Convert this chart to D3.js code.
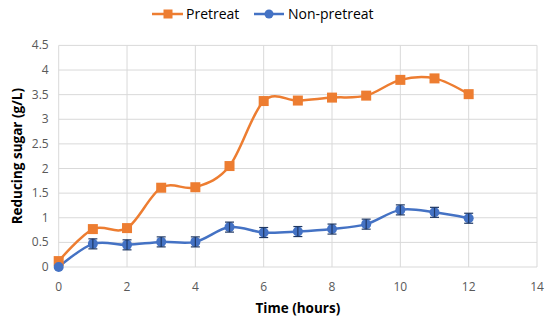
<!DOCTYPE html>
<html lang="en">
<head>
<meta charset="UTF-8">
<title>Reducing sugar</title>
<script src="https://d3js.org/d3.v7.min.js"></script>
<style>
    body { margin: 0; padding: 0; background: #fff; }
    svg { font-family: "Open Sans", "Liberation Sans", sans-serif; }
    .grid line { stroke: #d9d9d9; stroke-width: 1; }
    .tick-label { font-size: 12px; fill: #595959; }
    .axis-title { font-size: 13.5px; font-weight: bold; fill: #000; }
    .legend-text { font-size: 14px; fill: #000; }
</style>
</head>
<body>
<script>
    // data
    const hours = [0, 1, 2, 3, 4, 5, 6, 7, 8, 9, 10, 11, 12];
    const pretreat = [0.12, 0.77, 0.79, 1.61, 1.62, 2.05, 3.37, 3.38, 3.44, 3.48, 3.80, 3.83, 3.51];
    const nonPretreat = [0.0, 0.47, 0.45, 0.51, 0.51, 0.81, 0.70, 0.72, 0.77, 0.87, 1.16, 1.11, 0.99];
    const xTicks = [0, 2, 4, 6, 8, 10, 12, 14];
    const yTicks = [0, 0.5, 1, 1.5, 2, 2.5, 3, 3.5, 4, 4.5];

    const width = 550, height = 322;
    const margin = { left: 58.7, right: 13, top: 45.4, bottom: 55 };

    const svg = d3.select("body").append("svg")
        .attr("width", width)
        .attr("height", height);

    const x = d3.scaleLinear().domain([0, 14]).range([margin.left, width - margin.right]);
    const y = d3.scaleLinear().domain([0, 4.5]).range([height - margin.bottom, margin.top]);

    // gridlines
    const grid = svg.append("g").attr("class", "grid");
    grid.selectAll(".h").data(yTicks).enter().append("line")
        .attr("x1", x(0)).attr("x2", x(14))
        .attr("y1", d => y(d)).attr("y2", d => y(d));
    grid.selectAll(".v").data(xTicks).enter().append("line")
        .attr("x1", d => x(d)).attr("x2", d => x(d))
        .attr("y1", y(0)).attr("y2", y(4.5));

    // tick labels
    svg.selectAll(".ytl").data(yTicks).enter().append("text")
        .attr("class", "tick-label")
        .attr("x", x(0) - 10)
        .attr("y", d => y(d) + 4)
        .attr("text-anchor", "end")
        .text(d => d);
    svg.selectAll(".xtl").data(xTicks).enter().append("text")
        .attr("class", "tick-label")
        .attr("x", d => x(d))
        .attr("y", y(0) + 24)
        .attr("text-anchor", "middle")
        .text(d => d);

    // axis titles
    svg.append("text").attr("class", "axis-title")
        .attr("x", (x(0) + x(14)) / 2)
        .attr("y", 313)
        .attr("text-anchor", "middle")
        .text("Time (hours)");
    svg.append("text").attr("class", "axis-title")
        .attr("transform", `translate(22,${(y(0) + y(4.5)) / 2}) rotate(-90)`)
        .attr("text-anchor", "middle")
        .text("Reducing sugar (g/L)");

    const line = d3.line()
        .x(d => x(d[0]))
        .y(d => y(d[1]))
        .curve(d3.curveCardinal.tension(0));

    const orange = "#ED7D31", blue = "#4472C4";
    const pData = hours.map((h, i) => [h, pretreat[i]]);
    const nData = hours.map((h, i) => [h, nonPretreat[i]]);

    svg.append("path").datum(pData)
        .attr("d", line).attr("fill", "none")
        .attr("stroke", orange).attr("stroke-width", 2.5);
    svg.append("path").datum(nData)
        .attr("d", line).attr("fill", "none")
        .attr("stroke", blue).attr("stroke-width", 2.5);

    // orange squares
    svg.selectAll(".sq").data(pData).enter().append("rect")
        .attr("x", d => x(d[0]) - 5)
        .attr("y", d => y(d[1]) - 5)
        .attr("width", 10).attr("height", 10)
        .attr("fill", orange);

    // blue circles with tiny error bars
    svg.selectAll(".ci").data(nData).enter().append("circle")
        .attr("cx", d => x(d[0]))
        .attr("cy", d => y(d[1]))
        .attr("r", 5)
        .attr("fill", blue);
    const errs = svg.append("g").attr("stroke", "#1f3864").attr("stroke-width", 1.2);
    nData.slice(1).forEach(d => {
        const cx = x(d[0]), top = y(d[1]) - 5, bot = y(d[1]) + 5;
        errs.append("line").attr("x1", cx).attr("x2", cx).attr("y1", top).attr("y2", bot);
        errs.append("line").attr("x1", cx - 4.5).attr("x2", cx + 4.5).attr("y1", top).attr("y2", top);
        errs.append("line").attr("x1", cx - 4.5).attr("x2", cx + 4.5).attr("y1", bot).attr("y2", bot);
    });

    // legend
    const lg = svg.append("g");
    lg.append("line").attr("x1", 152).attr("x2", 183).attr("y1", 14).attr("y2", 14)
        .attr("stroke", orange).attr("stroke-width", 2.5);
    lg.append("rect").attr("x", 163.5).attr("y", 9.5).attr("width", 9).attr("height", 9).attr("fill", orange);
    lg.append("text").attr("class", "legend-text").attr("x", 186).attr("y", 19).text("Pretreat");
    lg.append("line").attr("x1", 254).attr("x2", 284).attr("y1", 14).attr("y2", 14)
        .attr("stroke", blue).attr("stroke-width", 2.5);
    lg.append("circle").attr("cx", 269).attr("cy", 14).attr("r", 4.5).attr("fill", blue);
    lg.append("text").attr("class", "legend-text").attr("x", 288).attr("y", 19).text("Non-pretreat");
</script>
</body>
</html>
